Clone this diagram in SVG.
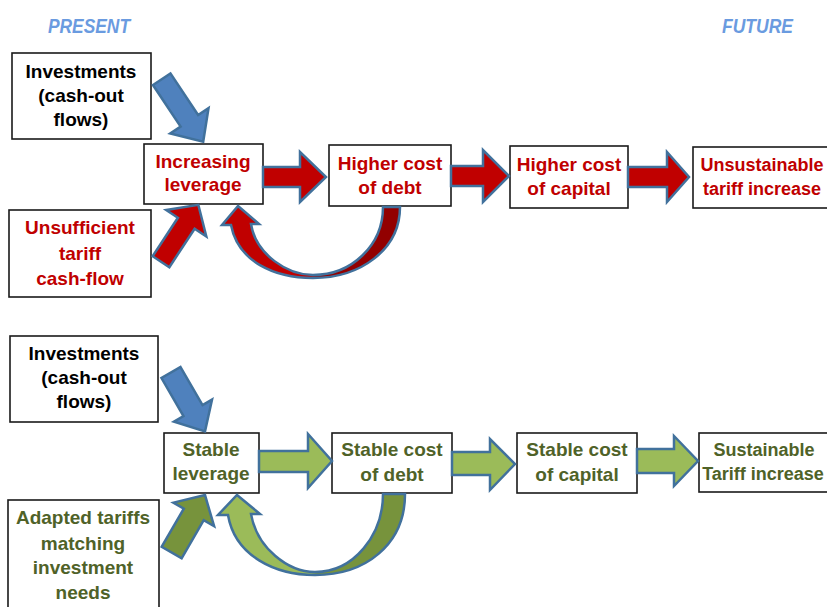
<svg xmlns="http://www.w3.org/2000/svg" width="827" height="607" viewBox="0 0 827 607">
<defs>
<style>
.box{fill:#fff;stroke:#1a1a1a;stroke-width:1.6}
.t{font-family:"Liberation Sans",Arial,sans-serif;font-weight:bold;font-size:19px;text-anchor:middle}
.s{font-size:18px}
.k{fill:#000}
.r{fill:#c00000}
.g{fill:#4f6228}
.hdr{font-family:"Liberation Sans",Arial,sans-serif;font-weight:bold;font-style:italic;font-size:20px;fill:#6a9be0}
.arr{stroke:#41719c;stroke-width:2.5;stroke-linejoin:miter}
.blue{fill:#4f81bd}
.red{fill:#c00000}
.lg{fill:#9bbb59}
.dg{fill:#77933c}
</style>
<linearGradient id="loopR" gradientUnits="userSpaceOnUse" x1="222" y1="0" x2="400" y2="0">
<stop offset="0" stop-color="#c00000"/><stop offset="0.5" stop-color="#c00000"/><stop offset="0.53" stop-color="#920000"/><stop offset="1" stop-color="#920000"/>
</linearGradient>
<linearGradient id="loopG" gradientUnits="userSpaceOnUse" x1="218" y1="0" x2="405" y2="0">
<stop offset="0" stop-color="#9bbb59"/><stop offset="0.5" stop-color="#9bbb59"/><stop offset="0.53" stop-color="#77933c"/><stop offset="1" stop-color="#77933c"/>
</linearGradient>
</defs>
<rect width="827" height="607" fill="#fff"/>

<text class="hdr" x="48" y="33" textLength="82" lengthAdjust="spacingAndGlyphs">PRESENT</text>
<text class="hdr" x="722" y="33" textLength="71" lengthAdjust="spacingAndGlyphs">FUTURE</text>

<g id="n-invest-top"><rect class="box" x="12" y="53" width="139" height="86"/>
<text class="t k" x="81" y="78">Investments</text><text class="t k" x="81" y="102">(cash-out</text><text class="t k" x="81" y="126">flows)</text></g>
<g id="n-increasing"><rect class="box" x="144" y="144" width="119" height="60"/>
<text class="t r" x="203" y="168">Increasing</text><text class="t r" x="203" y="191">leverage</text></g>
<g id="n-unsufficient"><rect class="box" x="9" y="210" width="142" height="87"/>
<text class="t r" x="80" y="234">Unsufficient</text><text class="t r" x="80" y="260">tariff</text><text class="t r" x="80" y="285">cash-flow</text></g>
<g id="n-hcd"><rect class="box" x="329" y="145" width="122" height="61"/>
<text class="t r" x="390" y="170">Higher cost</text><text class="t r" x="390" y="194">of debt</text></g>
<g id="n-hcc"><rect class="box" x="510" y="146" width="118" height="62"/>
<text class="t r" x="569" y="171">Higher cost</text><text class="t r" x="569" y="195">of capital</text></g>
<g id="n-unsust"><rect class="box" x="693" y="147" width="160" height="61"/>
<text class="t s r" x="762" y="171">Unsustainable</text><text class="t s r" x="762" y="195">tariff increase</text></g>

<g id="n-invest-bot"><rect class="box" x="10" y="336" width="148" height="86"/>
<text class="t k" x="84" y="360">Investments</text><text class="t k" x="84" y="384">(cash-out</text><text class="t k" x="84" y="408">flows)</text></g>
<g id="n-stable-lev"><rect class="box" x="164" y="433" width="95" height="60"/>
<text class="t g" x="211" y="456">Stable</text><text class="t g" x="211" y="480">leverage</text></g>
<g id="n-adapted"><rect class="box" x="8" y="500" width="151" height="120"/>
<text class="t g" x="83" y="524">Adapted tariffs</text><text class="t g" x="83" y="550">matching</text><text class="t g" x="83" y="574">investment</text><text class="t g" x="83" y="599">needs</text></g>
<g id="n-scd"><rect class="box" x="332" y="433" width="120" height="60"/>
<text class="t g" x="392" y="456">Stable cost</text><text class="t g" x="392" y="481">of debt</text></g>
<g id="n-scc"><rect class="box" x="517" y="433" width="120" height="60"/>
<text class="t g" x="577" y="456">Stable cost</text><text class="t g" x="577" y="481">of capital</text></g>
<g id="n-sust"><rect class="box" x="699" y="433" width="160" height="59"/>
<text class="t s g" x="764" y="456">Sustainable</text><text class="t s g" x="763" y="480">Tariff increase</text></g>

<g id="connectors">
<polygon class="arr blue" transform="translate(161.7,79.2) rotate(56.4)" points="0,-10.5 50,-10.5 50,-23 75,0 50,23 50,10.5 0,10.5"/>
<polygon class="arr red" transform="translate(161,261.7) rotate(-56.7)" points="0,-10 46,-10 46,-24 68,0 46,24 46,10 0,10"/>
<polygon class="arr red" points="263,167 300,167 300,152 326,177 300,202 300,187 263,187"/>
<polygon class="arr red" points="451,166 483,166 483,150 509,176 483,202 483,186 451,186"/>
<polygon class="arr red" points="628,167 667,167 667,152 689,177 667,202 667,187 628,187"/>
<path class="arr" fill="url(#loopR)" d="M238,206 L259,224 L251,224 C256,255 288,275 313,275 C352,275 383,245 383,207 L400,207 C400,250 360,278 313,278 C275,278 238,262 231,225 L222,225 Z"/>

<polygon class="arr blue" transform="translate(171,372.5) rotate(60)" points="0,-11 44,-11 44,-22 68,0 44,22 44,11 0,11"/>
<polygon class="arr dg" transform="translate(171.7,552.5) rotate(-59.9)" points="0,-11.5 44,-11.5 44,-23.5 66.4,0 44,23.5 44,11.5 0,11.5"/>
<polygon class="arr lg" points="259,451 308,451 308,434 332,461 308,488 308,472 259,472"/>
<polygon class="arr lg" points="452,452 490,452 490,439 515,464 490,490 490,475 452,475"/>
<polygon class="arr lg" points="637,449 674,449 674,436 698,461 674,486 674,473 637,473"/>
<path class="arr" fill="url(#loopG)" d="M237,495 L260,514 L251,514 C257,548 288,572 315,572 C354,572 383,535 383,494 L405,494 C405,545 365,575 315,575 C275,575 235,556 228,515 L218,515 Z"/>
</g>
</svg>
